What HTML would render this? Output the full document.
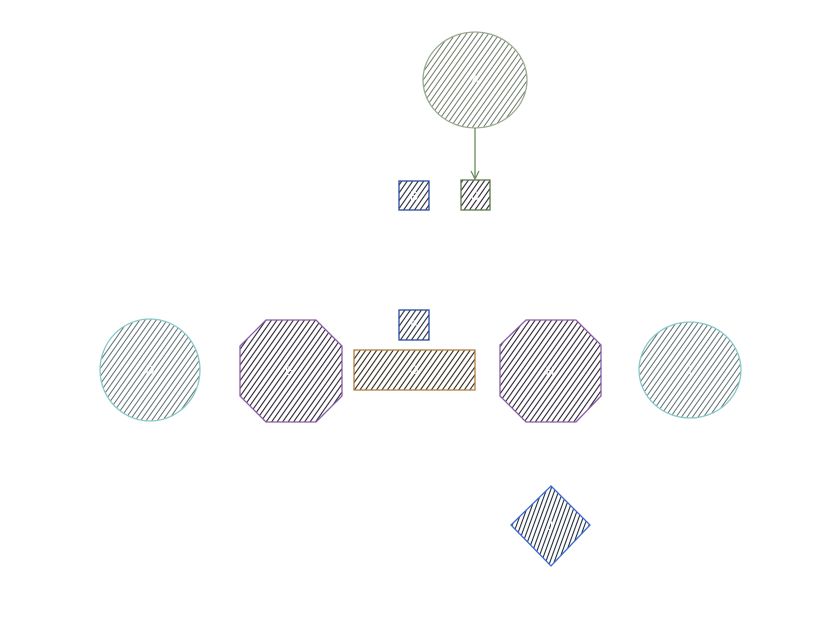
<!DOCTYPE html>
<html><head><style>html,body{margin:0;padding:0;background:#fff;}svg{display:block}</style></head>
<body>
<svg width="827" height="619" viewBox="0 0 827 619" xmlns="http://www.w3.org/2000/svg" font-family="Liberation Sans, sans-serif">
<defs>
<pattern id="hg" width="4.5" height="10" patternUnits="userSpaceOnUse" patternTransform="rotate(35)"><line x1="1" y1="0" x2="1" y2="10" stroke="#6f7a6a" stroke-width="1"/></pattern>
<pattern id="ht" width="4.5" height="10" patternUnits="userSpaceOnUse" patternTransform="rotate(35)"><line x1="1" y1="0" x2="1" y2="10" stroke="#5f7070" stroke-width="1"/></pattern>
<pattern id="hd" width="4.5" height="10" patternUnits="userSpaceOnUse" patternTransform="rotate(35)"><line x1="1" y1="0" x2="1" y2="10" stroke="#2a2030" stroke-width="1.1"/></pattern>
<pattern id="hb" width="4.5" height="10" patternUnits="userSpaceOnUse" patternTransform="rotate(35)"><line x1="1" y1="0" x2="1" y2="10" stroke="#202838" stroke-width="1.1"/></pattern>
<pattern id="ho" width="4.5" height="10" patternUnits="userSpaceOnUse" patternTransform="rotate(35)"><line x1="1" y1="0" x2="1" y2="10" stroke="#2e2618" stroke-width="1.1"/></pattern>
<pattern id="hv" width="4" height="10" patternUnits="userSpaceOnUse" patternTransform="rotate(20)"><line x1="1" y1="0" x2="1" y2="10" stroke="#1e2a3a" stroke-width="1.1"/></pattern>
</defs>
<ellipse cx="475" cy="80" rx="52" ry="48" fill="url(#hg)" stroke="#9aab90" stroke-width="1.3"/>
<line x1="475" y1="128" x2="475" y2="178" stroke="#6a8a5a" stroke-width="1.3"/>
<path d="M471 171 L475 179 L479 171" fill="none" stroke="#6a8a5a" stroke-width="1.2"/>
<rect x="399" y="181" width="30" height="29" fill="url(#hb)" stroke="#2a4aa0" stroke-width="1.3"/>
<rect x="461" y="180" width="29" height="30" fill="url(#hd)" stroke="#5a7a4a" stroke-width="1.3"/>
<ellipse cx="150" cy="370" rx="50" ry="51" fill="url(#ht)" stroke="#88c8c8" stroke-width="1.3"/>
<polygon points="266,320 316,320 342,346 342,396 316,422 266,422 240,396 240,346" fill="url(#hd)" stroke="#8a5ca8" stroke-width="1.3"/>
<rect x="399" y="310" width="30" height="30" fill="url(#hb)" stroke="#2a4aa0" stroke-width="1.3"/>
<rect x="354" y="350" width="121" height="40" fill="url(#ho)" stroke="#b08040" stroke-width="1.3"/>
<polygon points="526,320 576,320 601,345 601,396 576,422 526,422 500,396 500,345" fill="url(#hd)" stroke="#8a5ca8" stroke-width="1.3"/>
<ellipse cx="690" cy="370" rx="51" ry="48" fill="url(#ht)" stroke="#88c8c8" stroke-width="1.3"/>
<polygon points="551,486 590,525 551,566 511,525" fill="url(#hv)" stroke="#3a6ad8" stroke-width="1.3"/>
<g fill="#fff" font-size="12" text-anchor="middle">
<text x="475" y="84">A</text><text x="414" y="200">B</text><text x="475" y="200">C</text>
<text x="150" y="374">D</text><text x="289" y="375">E</text><text x="414" y="329">F</text>
<text x="414" y="374">G</text><text x="550" y="375">H</text><text x="690" y="374">I</text><text x="550" y="530">J</text>
</g>
</svg>
</body></html>
